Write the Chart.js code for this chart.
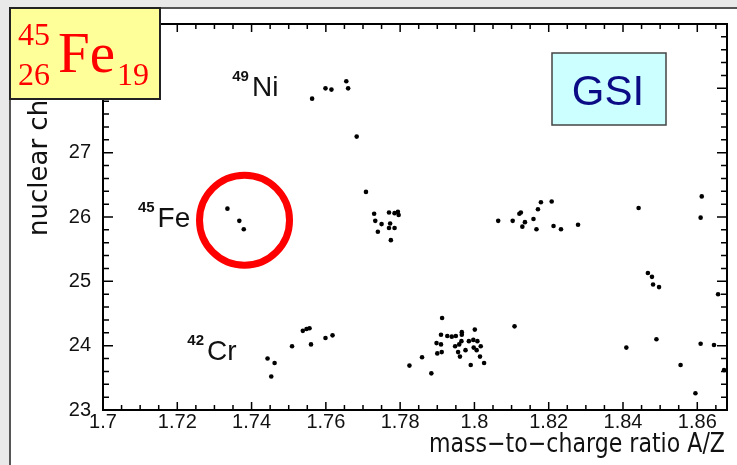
<!DOCTYPE html>
<html>
<head>
<meta charset="utf-8">
<script src="https://cdn.jsdelivr.net/npm/chart.js@4"></script>
<style>
  html, body { margin: 0; padding: 0; background: #e9e9e9; }
  #wrap { width: 737px; height: 465px; }
</style>
</head>
<body>
<div id="wrap"><canvas id="pid" width="737" height="465"></canvas></div>
<script>
// axis ticks
const xTicks = [1.7, 1.72, 1.74, 1.76, 1.78, 1.8, 1.82, 1.84, 1.86];
const yTicks = [23, 24, 25, 26, 27, 28];

// identified events, A/Z and Z, grouped by row
const aoqZ28 = [1.7563, 1.7599, 1.7615, 1.7655, 1.7660];
const zZ28   = [27.84, 28.00, 27.98, 28.11, 28.00];

const aoqZ27 = [1.7683];
const zZ27   = [27.25];

const aoqZ26 = [1.7335, 1.7367, 1.7379, 1.7708,
                1.7730, 1.7733, 1.7740, 1.7750, 1.7770, 1.7773, 1.7770, 1.7775, 1.7785, 1.7794, 1.7796, 1.7785,
                1.8064, 1.8103, 1.8121, 1.8125, 1.8136, 1.8129, 1.8159, 1.8171, 1.8179, 1.8208, 1.8167, 1.8213, 1.8233, 1.8279,
                1.8442, 1.8612, 1.8609];
const zZ26   = [26.13, 25.94, 25.81, 26.39,
                26.05, 25.94, 25.77, 25.89, 26.07, 25.90, 25.83, 25.64, 26.06, 26.08, 26.03, 25.83,
                25.94, 25.94, 26.05, 26.07, 25.92, 25.85, 25.97, 26.12, 26.23, 26.24, 25.81, 25.86, 25.81, 25.88,
                26.14, 26.32, 25.99];

const aoqZ25 = [1.8467, 1.8478, 1.8481, 1.8497, 1.8656];
const zZ25   = [25.13, 25.07, 24.95, 24.91, 24.80];

const aoqZ24 = [1.7443, 1.7462, 1.7453, 1.7509, 1.7538, 1.7548, 1.7556, 1.7560, 1.7599, 1.7618,
                1.7913, 1.7910, 1.7927, 1.7939, 1.7950, 1.7966, 1.7966, 1.8001, 1.7898, 1.7910,
                1.7965, 1.7959, 1.7948, 1.7985, 1.7997, 1.8008, 1.8017, 1.7998, 1.8006, 1.7900,
                1.7912, 1.7956, 1.7961, 1.7976, 1.8015, 1.8026, 1.7859, 1.7825, 1.7884, 1.7990,
                1.8108,
                1.8409, 1.8490, 1.8609, 1.8645, 1.8555, 1.8672, 1.8595];
const zZ24   = [23.80, 23.73, 23.52, 23.99, 24.23, 24.26, 24.27, 24.02, 24.12, 24.16,
                24.43, 24.17, 24.15, 24.14, 24.15, 24.21, 24.17, 24.25, 24.04, 24.02,
                24.07, 24.02, 23.99, 24.07, 24.09, 24.07, 23.99, 23.97, 23.93, 23.88,
                23.90, 23.90, 23.83, 23.93, 23.83, 23.73, 23.82, 23.69, 23.57, 23.70,
                24.30,
                23.97, 24.10, 24.03, 24.01, 23.70, 23.62, 23.26];

// the 45Fe candidates get a ring around them
const ringAoQ = [1.7381];
const ringZ   = [25.95];

// nuclide names placed next to their rows
const nuclideMass = ['49', '45', '42'];
const nuclideName = ['Ni', 'Fe', 'Cr'];
const nuclideAoQ  = [1.7348, 1.7094, 1.7227];
const nuclideZ    = [27.88, 25.85, 23.78];

function toPoints(xs, ys) {
    return xs.map((x, i) => ({ x: x, y: ys[i] }));
}

const events = [].concat(
    toPoints(aoqZ28, zZ28),
    toPoints(aoqZ27, zZ27),
    toPoints(aoqZ26, zZ26),
    toPoints(aoqZ25, zZ25),
    toPoints(aoqZ24, zZ24)
);

// page panel behind the plot
const panelPlugin = {
    id: 'panel',
    beforeDraw(chart) {
        const ctx = chart.ctx;
        ctx.save();
        ctx.fillStyle = '#e9e9e9';
        ctx.fillRect(0, 0, chart.width, chart.height);
        ctx.fillStyle = '#ffffff';
        ctx.fillRect(10, 8, chart.width - 10, chart.height - 8);
        ctx.strokeStyle = '#555555';
        ctx.lineWidth = 2;
        ctx.beginPath();
        ctx.moveTo(10, chart.height);
        ctx.lineTo(10, 8);
        ctx.lineTo(chart.width, 8);
        ctx.stroke();
        ctx.restore();
    }
};

// frame, inward tick marks, titles and boxes
const framePlugin = {
    id: 'frame',
    afterDraw(chart) {
        const ctx = chart.ctx;
        const a = chart.chartArea;
        const xs = chart.scales.x;
        const ys = chart.scales.y;
        ctx.save();

        ctx.strokeStyle = '#000';
        ctx.lineWidth = 2;
        ctx.strokeRect(a.left, a.top, a.right - a.left, a.bottom - a.top);

        ctx.lineWidth = 1.5;
        ctx.beginPath();
        for (let i = 0; i <= 33; i++) {
            const px = xs.getPixelForValue(1.7 + i * 0.005);
            if (px > a.right) break;
            const len = i % 4 === 0 ? 8 : 5;
            ctx.moveTo(px, a.bottom); ctx.lineTo(px, a.bottom - len);
            ctx.moveTo(px, a.top); ctx.lineTo(px, a.top + len);
        }
        for (let i = 0; i <= 30; i++) {
            const py = ys.getPixelForValue(23 + i * 0.2);
            if (py < a.top) break;
            const len = i % 5 === 0 ? 10 : 6;
            ctx.moveTo(a.left, py); ctx.lineTo(a.left + len, py);
            ctx.moveTo(a.right, py); ctx.lineTo(a.right - len, py);
        }
        ctx.stroke();

        // axis titles
        ctx.fillStyle = '#111';
        ctx.font = '26px "DejaVu Sans"';
        ctx.textBaseline = 'alphabetic';
        ctx.save();
        ctx.translate(a.right - 2, 452);
        ctx.scale(0.85, 1);
        ctx.textAlign = 'right';
        ctx.fillText('mass\u2212to\u2212charge ratio A/Z', 0, 0);
        ctx.restore();

        ctx.save();
        ctx.translate(47, 236);
        ctx.rotate(-Math.PI / 2);
        ctx.textAlign = 'left';
        ctx.fillText('nuclear charge Z', 0, 0);
        ctx.restore();

        // nuclide names
        ctx.textAlign = 'left';
        nuclideName.forEach((name, i) => {
            const px = xs.getPixelForValue(nuclideAoQ[i]);
            const py = ys.getPixelForValue(nuclideZ[i]);
            ctx.font = 'bold 15px "Liberation Sans"';
            ctx.fillText(nuclideMass[i], px, py - 15);
            const w = ctx.measureText(nuclideMass[i]).width;
            ctx.font = '28px "Liberation Sans"';
            ctx.fillText(name, px + w + 3, py);
        });

        // GSI tag
        ctx.fillStyle = '#ccffff';
        ctx.fillRect(552, 53, 114, 72);
        ctx.strokeStyle = '#444';
        ctx.lineWidth = 1.5;
        ctx.strokeRect(552, 53, 114, 72);
        ctx.fillStyle = '#0b0b86';
        ctx.font = '42px "Liberation Sans"';
        ctx.textAlign = 'center';
        ctx.fillText('GSI', 608, 105);

        // isotope tag in the corner
        ctx.fillStyle = '#ffff99';
        ctx.fillRect(10, 8, 150, 91);
        ctx.strokeStyle = '#222';
        ctx.lineWidth = 2;
        ctx.strokeRect(10, 8, 150, 91);
        ctx.fillStyle = '#ff0000';
        ctx.textAlign = 'left';
        ctx.font = '32px "Liberation Serif"';
        ctx.fillText('45', 18, 45);
        ctx.fillText('26', 18, 85);
        ctx.fillText('19', 117, 85);
        ctx.font = '57px "Liberation Serif"';
        ctx.fillText('Fe', 58, 72);

        ctx.restore();
    }
};

new Chart(document.getElementById('pid').getContext('2d'), {
    type: 'scatter',
    data: {
        datasets: [
            {
                data: events,
                pointRadius: 2.3,
                pointHoverRadius: 2.3,
                pointStyle: 'circle',
                backgroundColor: '#000',
                borderWidth: 0
            },
            {
                data: toPoints(ringAoQ, ringZ),
                pointRadius: 45,
                pointHoverRadius: 45,
                pointStyle: 'circle',
                backgroundColor: 'rgba(0,0,0,0)',
                borderColor: '#ff0000',
                borderWidth: 7
            }
        ]
    },
    options: {
        responsive: false,
        animation: false,
        devicePixelRatio: 1,
        layout: { autoPadding: false, padding: { left: 0, top: 24, right: 10, bottom: 0 } },
        plugins: {
            legend: { display: false },
            tooltip: { enabled: false }
        },
        scales: {
            x: {
                type: 'linear',
                min: 1.7,
                max: 1.868,
                afterBuildTicks: scale => { scale.ticks = xTicks.map(v => ({ value: v })); },
                afterFit: scale => { scale.height = 55; },
                grid: { display: false, drawTicks: false },
                border: { display: false },
                ticks: {
                    padding: 0,
                    color: '#111',
                    font: { family: 'Liberation Sans', size: 20 },
                    maxRotation: 0,
                    callback: v => String(Number(v.toFixed(3)))
                }
            },
            y: {
                type: 'linear',
                min: 23,
                max: 29,
                afterBuildTicks: scale => { scale.ticks = yTicks.map(v => ({ value: v })); },
                afterFit: scale => { scale.width = 103; },
                grid: { display: false, drawTicks: false },
                border: { display: false },
                ticks: {
                    padding: 12,
                    color: '#111',
                    font: { family: 'Liberation Sans', size: 20 },
                    callback: v => String(v)
                }
            }
        }
    },
    plugins: [panelPlugin, framePlugin]
});
</script>
</body>
</html>
